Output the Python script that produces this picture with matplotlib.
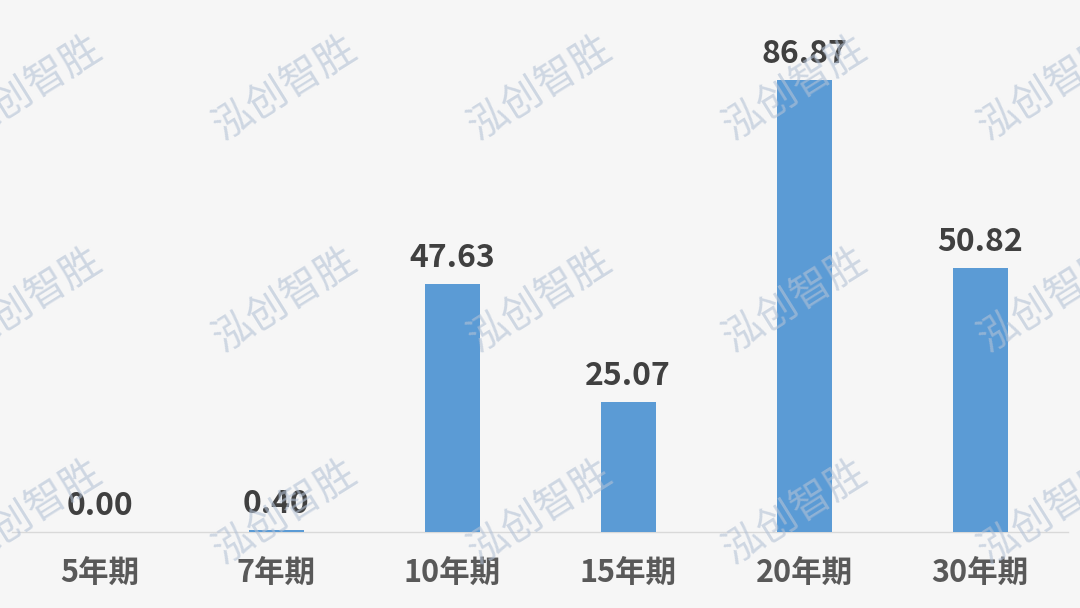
import matplotlib
matplotlib.use("Agg")
import matplotlib.pyplot as plt
import numpy as np

plt.rcParams['font.family'] = ['Noto Sans CJK SC', 'DejaVu Sans']

# ── data ──────────────────────────────────────────────────────────────────────
categories = ["5年期", "7年期", "10年期", "15年期", "20年期", "30年期"]
values = [0.00, 0.40, 47.63, 25.07, 86.87, 50.82]

BAR_COLOR = "#5B9BD5"
BG = "#F6F6F6"

fig = plt.figure(figsize=(10.8, 6.08), dpi=100, facecolor=BG)
ax = fig.add_axes([12 / 1080, 76 / 608, 1056 / 1080, 532 / 608])
ax.set_facecolor(BG)

x = np.arange(len(categories))
bars = ax.bar(x, values, width=55 / 176, color=BAR_COLOR, zorder=3)

for xi, v in zip(x, values):
    ax.text(xi, v + 1.9, f"{v:.2f}", ha="center", va="bottom",
            fontsize=23, fontweight="bold", color="#404040", zorder=4)

ax.set_xlim(-0.5, len(categories) - 0.5)
ax.set_ylim(0, 102.3)
ax.set_xticks(x)
ax.set_xticklabels(categories, fontsize=22, fontweight="bold", color="#595959")
ax.tick_params(axis="x", length=0, pad=18)
ax.set_yticks([])
for s in ["top", "right", "left"]:
    ax.spines[s].set_visible(False)
ax.spines["bottom"].set_color("#D9D9D9")
ax.spines["bottom"].set_linewidth(1)

# ── watermark (cut at the edges, as in the source) ───────────────────────────
wm_x = [30, 285, 540, 795, 1050]
wm_y = [88, 300, 512]
for wy in wm_y:
    for wx in wm_x:
        fig.text(wx / 1080, 1 - wy / 608, "泓创智胜", fontsize=29, color="#B4C2D6",
                 alpha=0.6, rotation=32, ha="center", va="center", zorder=10)

fig.savefig("out.png", dpi=100, facecolor=BG)
